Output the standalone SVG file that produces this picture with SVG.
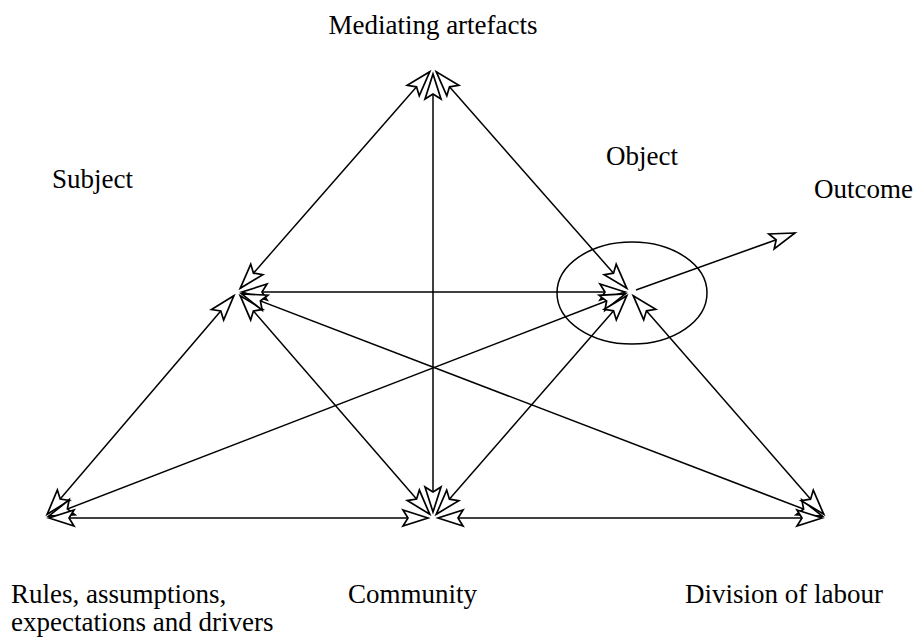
<svg xmlns="http://www.w3.org/2000/svg" width="924" height="642" viewBox="0 0 924 642">
<style>
.lbl{font-family:"Liberation Serif","Times New Roman",serif;font-size:27px;fill:#000}
.c line{stroke:#000;stroke-width:1.5;fill:none}
.both{marker-start:url(#ah);marker-end:url(#ah)}
.one{marker-end:url(#ah)}
</style>
<defs>
<marker id="ah" markerUnits="userSpaceOnUse" markerWidth="40" markerHeight="40" refX="0" refY="0" orient="auto-start-reverse" overflow="visible">
<path d="M0,0 L-25,-8 L-20,0 L-25,8 Z" fill="#fff" stroke="#000" stroke-width="1.7" stroke-linejoin="miter"/>
</marker>
</defs>
<rect width="924" height="642" fill="#fff"/>
<g id="object-ellipse"><ellipse cx="632" cy="293" rx="75" ry="51" fill="none" stroke="#000" stroke-width="1.5"/></g>
<g class="c" id="connectors">
<line class="both" x1="429.7" y1="71.8" x2="240.3" y2="288.2"/>
<line class="both" x1="436.3" y1="71.8" x2="626.7" y2="288.2"/>
<line class="both" x1="433" y1="74" x2="433" y2="512"/>
<line class="both" x1="242" y1="292" x2="625" y2="292"/>
<line class="both" x1="233.8" y1="295.8" x2="47.2" y2="514.2"/>
<line class="both" x1="240.3" y1="295.8" x2="429.7" y2="514.2"/>
<line class="both" x1="241.7" y1="293.8" x2="822.3" y2="516.2"/>
<line class="both" x1="625.3" y1="293.8" x2="48.7" y2="516.2"/>
<line class="both" x1="626.7" y1="295.8" x2="436.3" y2="514.2"/>
<line class="both" x1="633.3" y1="295.8" x2="823.7" y2="514.2"/>
<line class="both" x1="49" y1="518" x2="428" y2="518"/>
<line class="both" x1="438" y1="518" x2="822" y2="518"/>
<line class="one" x1="636" y1="290" x2="795" y2="233"/>
</g>
<g id="mediating"><text class="lbl" x="433" y="34" text-anchor="middle">Mediating artefacts</text></g>
<g id="object"><text class="lbl" x="606" y="165">Object</text></g>
<g id="subject"><text class="lbl" x="52" y="188">Subject</text></g>
<g id="outcome"><text class="lbl" x="814" y="198">Outcome</text></g>
<g id="rules"><text class="lbl" x="11" y="603">Rules, assumptions,</text><text class="lbl" x="11" y="631">expectations and drivers</text></g>
<g id="community"><text class="lbl" x="348" y="603">Community</text></g>
<g id="division"><text class="lbl" x="685" y="603">Division of labour</text></g>
</svg>
